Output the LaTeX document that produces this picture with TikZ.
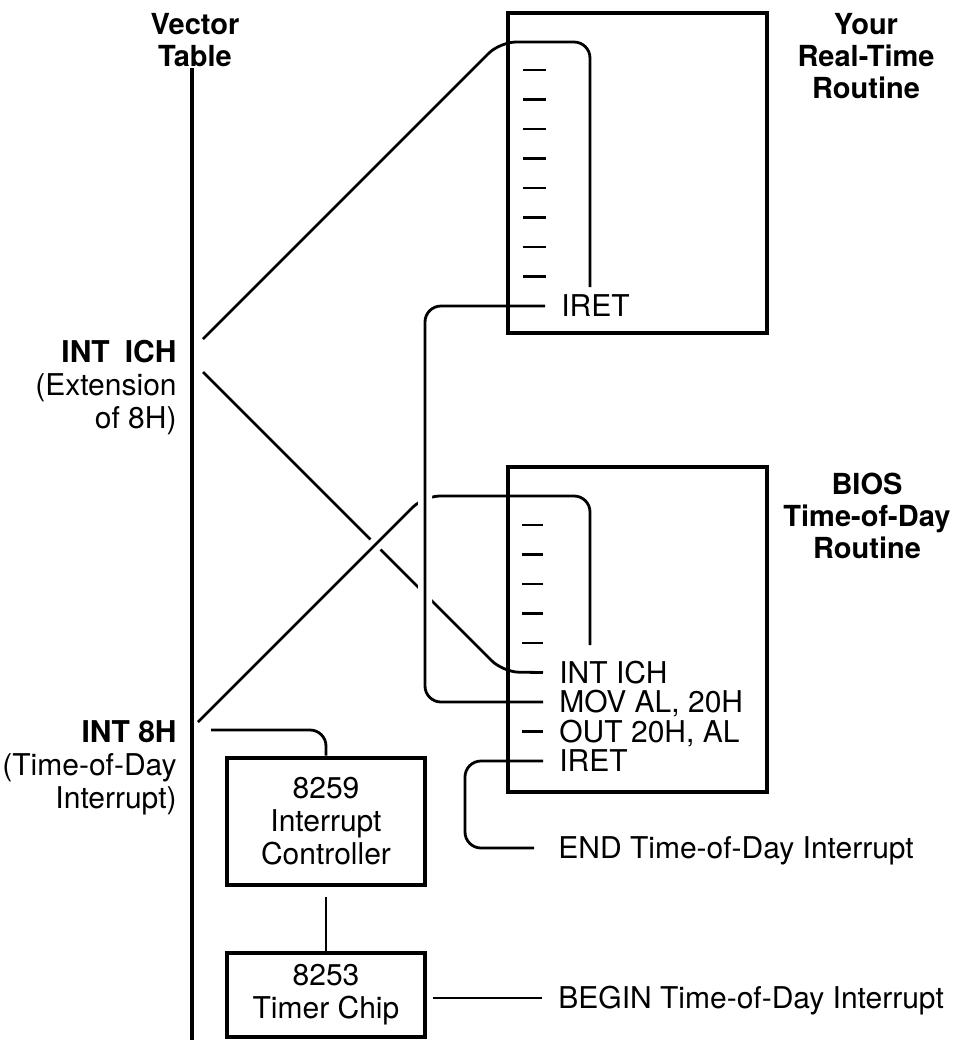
\documentclass[tikz,border=0pt]{standalone}
\usepackage{fontspec}
\setmainfont{TeX Gyre Heros}
\tikzset{
  conn/.style={line width=1.4pt, rounded corners=8pt},
  bridge/.style={conn, preaction={draw=white, line width=7pt}},
  routine/.style={draw, line width=2pt, minimum width=129.5pt, inner sep=0pt},
  chip/.style={draw, line width=2.4pt, minimum width=99pt, inner sep=0pt, align=center, font=\fontsize{15}{16.5}\selectfont},
  code/.style={anchor=west, inner xsep=8pt, inner ysep=0pt, text height=10.8pt, text depth=0pt, font=\fontsize{15}{16}\selectfont},
  head/.style={inner sep=0pt, align=center, font=\bfseries\fontsize{14.5}{16}\selectfont},
  side/.style={inner sep=0pt, align=right, anchor=north east, font=\fontsize{15}{16.5}\selectfont},
}
\begin{document}
\begin{tikzpicture}[x=0.5pt,y=-0.5pt]
\useasboundingbox (0,0) rectangle (957,1040);

% headings
\node[head, anchor=north] (vt) at (195,13) {Vector\\Table};
\node[head, anchor=north] (rthead) at (866,13) {Your\\Real-Time\\Routine};
\node[head, anchor=north] (bioshead) at (867,473) {BIOS\\Time-of-Day\\Routine};

% vector table entries
\node[side] (intich) at (177,340) {\textbf{INT\hspace{0.5em}ICH}\\(Extension\\of 8H)};
\node[side] (int8) at (177,720) {\textbf{INT 8H}\\(Time-of-Day\\Interrupt)};
\coordinate (ichA) at (203,339);
\coordinate (ichB) at (203,372);
\coordinate (i8A) at (198,722);
\coordinate (i8B) at (211,730);

% code lines
\node[code] (rtiret) at (545,306) {IRET};
\node[code] (bint) at (543,672.5) {INT ICH};
\node[code] (bmov) at (543,702) {MOV AL, 20H};
\node[code] (bout) at (543,731.5) {OUT 20H, AL};
\node[code] (biret) at (543,761) {IRET};
\node[code] (endlbl) at (542,848) {END Time-of-Day Interrupt};
\node[code] (beginlbl) at (542,998) {BEGIN Time-of-Day Interrupt};

% chips
\node[chip, minimum height=63.5pt] (pic) at (326,821.5) {8259\\Interrupt\\Controller};
\node[chip, minimum height=42pt] (timer) at (326,995) {8253\\Timer Chip};

% connectors
\draw[conn] (ichB) -- (503,672) -- (bint.west);
\draw[conn] (ichA) -- (500,42) -- (590,42) -- (590,287);
\draw[bridge] (i8A) -- (424,496) -- (590,496) -- (590,645);
\draw[bridge] (rtiret.west) -- (425,306) -- (425,702) -- (bmov.west);
\draw[conn, shorten >=4pt] (biret.west) -- (465,761) -- (465,848) -- (endlbl.west);
\draw[conn] (i8B) -| (pic.north);
\draw[conn, shorten <=5pt] (pic.south) -- (timer.north);
\draw[conn, shorten <=3pt] (beginlbl.west -| timer.east) -- (beginlbl.west);

% dashes
\foreach \i in {0,...,7}
  \draw[conn] (523,{70+29.5*\i}) -- (546,{70+29.5*\i});
\foreach \i in {0,...,4}
  \draw[conn] (522,{525+29.5*\i}) -- (543,{525+29.5*\i});
\draw[conn] (522,731.5) -- (bout.west);

% vector table
\draw[line width=2.4pt] (192,68) -- (192,1040);

% routine boxes
\node[routine, minimum height=160pt] (rtbox) at (637.5,173) {};
\node[routine, minimum height=162.5pt] (biosbox) at (637.5,629.5) {};
\end{tikzpicture}
\end{document}
